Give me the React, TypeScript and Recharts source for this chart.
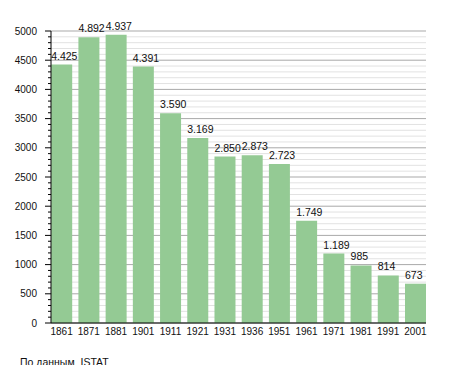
import { BarChart, Bar, XAxis, YAxis, CartesianGrid, LabelList } from 'recharts';

// population census years and values
const years = ['1861', '1871', '1881', '1901', '1911', '1921', '1931', '1936', '1951', '1961', '1971', '1981', '1991', '2001'];
const population = [4425, 4892, 4937, 4391, 3590, 3169, 2850, 2873, 2723, 1749, 1189, 985, 814, 673];

// y axis: label every 500, minor tick every 100
const majorTicks = [0, 500, 1000, 1500, 2000, 2500, 3000, 3500, 4000, 4500, 5000];
const minorStep = 100;
const yTicks: number[] = [];
for (let v = 0; v <= 5000; v += minorStep) yTicks.push(v);

const data = years.map((year, i) => ({ year, value: population[i] }));

const FONT = '"Liberation Sans", Arial, sans-serif';

// 4425 -> "4.425"
const fmt = (v: number) => String(v).replace(/\B(?=(\d{3})+(?!\d))/g, '.');

const YTick = (props: any) => {
    const { x, y, payload } = props;
    const major = majorTicks.includes(payload.value);
    return (
        <g>
            <line x1={x - (major ? 6 : 3)} x2={x} y1={y} y2={y} stroke="#000" />
            {major && (
                <text x={x - 14} y={y} dy="0.355em" textAnchor="end" fontSize={10} fontFamily={FONT} fill="#111">
                    {payload.value}
                </text>
            )}
        </g>
    );
};

const GridLine = (props: any) => {
    const { x1, x2, y1, y2, index } = props;
    const major = index % 5 === 0;
    return <line x1={x1} x2={x2} y1={y1} y2={y2} stroke={major ? '#a9a9a9' : '#e2e2e2'} strokeWidth={1} />;
};

const ValueLabel = (props: any) => {
    const { x, y, value } = props;
    return (
        <text x={x} y={y - 5} textAnchor="start" fontSize={10.5} fontFamily={FONT} fill="#111">
            {fmt(value)}
        </text>
    );
};

const App = () => {
    return (
        <div style={{ position: 'relative', width: 439, height: 357 }}>
            <BarChart
                width={439}
                height={357}
                data={data}
                margin={{ top: 23, right: 21, bottom: 12, left: 0 }}
                barCategoryGap={3.2}
            >
                <CartesianGrid vertical={false} horizontal={GridLine} />
                <XAxis
                    dataKey="year"
                    padding={{ left: -3, right: -3 }}
                    tickLine={false}
                    tickSize={0}
                    tickMargin={5}
                    height={30}
                    axisLine={{ stroke: '#000' }}
                    tick={{ fontSize: 10, fontFamily: FONT, fill: '#111' }}
                    interval={0}
                />
                <YAxis
                    width={43}
                    domain={[0, 5000]}
                    ticks={yTicks}
                    interval={0}
                    tickLine={false}
                    tickSize={0}
                    tickMargin={0}
                    axisLine={{ stroke: '#000' }}
                    tick={YTick}
                />
                <Bar dataKey="value" fill="#94ca94" isAnimationActive={false}>
                    <LabelList dataKey="value" content={ValueLabel} />
                </Bar>
            </BarChart>
            <div
                style={{
                    position: 'absolute',
                    left: 12,
                    top: 348,
                    fontSize: 10.5,
                    fontFamily: FONT,
                    color: '#111',
                    whiteSpace: 'nowrap',
                }}
            >
                По данным&nbsp; ISTAT
            </div>
        </div>
    );
};

export default App;
